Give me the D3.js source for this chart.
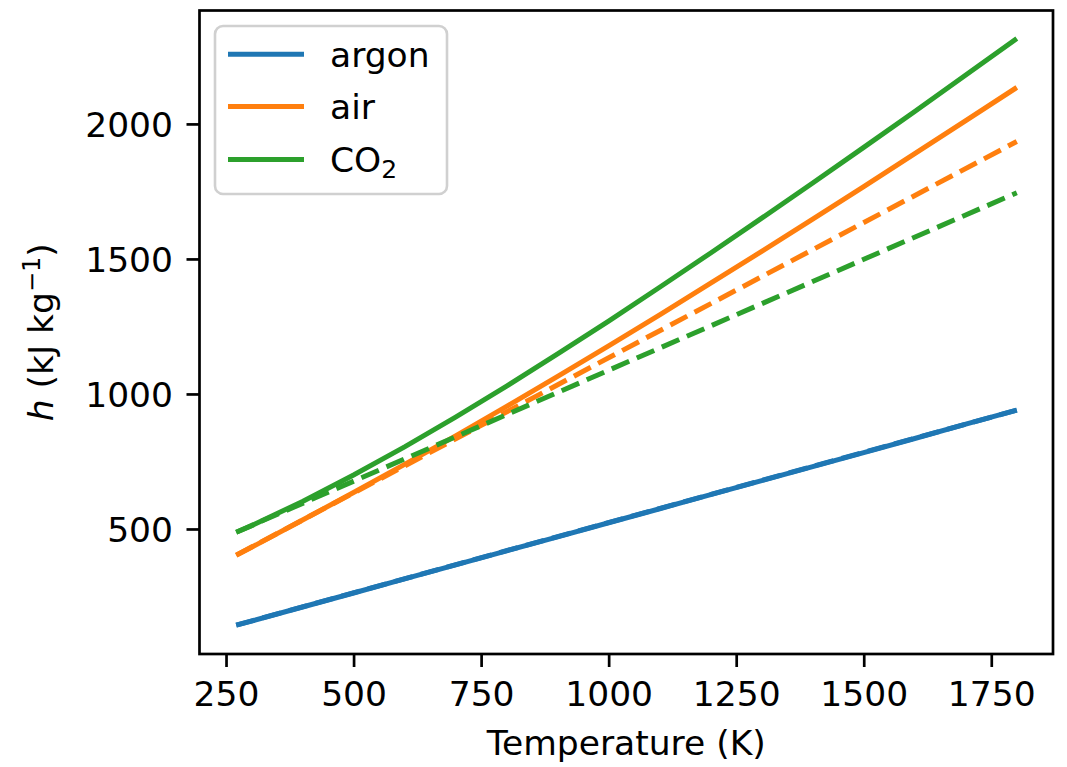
<!DOCTYPE html>
<html>
<head>
<meta charset="utf-8">
<script src="https://cdn.jsdelivr.net/npm/d3@7"></script>
<style>
  html, body { margin: 0; padding: 0; background: #fff; }
  svg { display: block; font-family: "DejaVu Sans", sans-serif; }
</style>
</head>
<body>
<svg id="chart" width="1067" height="767"></svg>
<script>
// 温度 (K)
const temps = [270, 300, 400, 500, 600, 700, 800, 900, 1000, 1100, 1200, 1300, 1400, 1500, 1600, 1700, 1800];
// 实线：h(T)，kJ/kg
const argonH = [144, 159, 211, 263, 315, 367, 419, 471, 523, 575, 627, 679, 731, 783, 835, 888, 940];
const airH   = [403, 432, 533, 635, 739, 845, 954, 1065, 1178, 1293, 1410, 1528, 1647, 1768, 1890, 2012, 2135];
const co2H   = [488, 512, 602, 700, 804, 914, 1029, 1148, 1270, 1395, 1522, 1651, 1781, 1913, 2046, 2181, 2316];
// 虚线：定比热近似（直线，两端点）
const dashT = [270, 1800];
const argonDash = [144, 940];
const airDash   = [403, 1935];
const co2Dash   = [488, 1745];

const xTicks = [250, 500, 750, 1000, 1250, 1500, 1750];
const yTicks = [500, 1000, 1500, 2000];
const names  = ["argon", "air", "CO2"];
const colors = ["#1f77b4", "#ff7f0e", "#2ca02c"];

const svg = d3.select("#chart");
const L = 199.5, R = 1053, T = 10.5, B = 654;

const x = d3.scaleLinear().domain([198, 1871]).range([L, R]);
const y = d3.scaleLinear().domain([37, 2420]).range([B, T]);

const pts = (xs, ys) => xs.map((t, i) => [t, ys[i]]);
const line = d3.line().x((d) => x(d[0])).y((d) => y(d[1]));

const solid = [pts(temps, argonH), pts(temps, airH), pts(temps, co2H)];
const dashed = [pts(dashT, argonDash), pts(dashT, airDash), pts(dashT, co2Dash)];

const plot = svg.append("g");
solid.forEach((s, i) => {
  plot.append("path").attr("d", line(s)).attr("fill", "none")
    .attr("stroke", colors[i]).attr("stroke-width", 5);
});
dashed.forEach((s, i) => {
  plot.append("path").attr("d", line(s)).attr("fill", "none")
    .attr("stroke", colors[i]).attr("stroke-width", 5).attr("stroke-dasharray", "19 8.3");
});

// 坐标轴
const tickLen = 13, fs = 34.5;
const xa = svg.append("g").attr("transform", `translate(0,${B})`)
  .call(d3.axisBottom(x).tickValues(xTicks).tickSize(tickLen).tickPadding(0).tickFormat(d3.format("d")));
const ya = svg.append("g").attr("transform", `translate(${L},0)`)
  .call(d3.axisLeft(y).tickValues(yTicks).tickSize(tickLen).tickPadding(0).tickFormat(d3.format("d")));
[xa, ya].forEach((a) => {
  a.select(".domain").remove();
  a.selectAll(".tick line").attr("stroke", "#000").attr("stroke-width", 2.7);
  a.selectAll(".tick text").attr("fill", "#000").style("font-size", fs + "px")
    .style("font-family", "DejaVu Sans");
});
xa.selectAll(".tick text").attr("y", 0).attr("dy", 0)
  .attr("transform", `translate(0,${706 - B})`);
ya.selectAll(".tick text").attr("x", -(L - 173)).attr("dy", "0.36em");

svg.append("rect").attr("x", L).attr("y", T).attr("width", R - L).attr("height", B - T)
  .attr("fill", "none").attr("stroke", "#000").attr("stroke-width", 2.7);

// 轴标题
svg.append("text").attr("x", (L + R) / 2).attr("y", 755).attr("text-anchor", "middle")
  .style("font-size", fs + "px").text("Temperature (K)");

const yl = svg.append("text").attr("text-anchor", "middle")
  .attr("transform", `translate(53,${(T + B) / 2}) rotate(-90)`).style("font-size", fs + "px");
yl.append("tspan").style("font-style", "italic").text("h");
yl.append("tspan").text(" (kJ kg");
yl.append("tspan").attr("dy", -13).style("font-size", "24px").text("\u22121");
yl.append("tspan").attr("dy", 13).text(")");

// 图例
const lg = svg.append("g");
lg.append("rect").attr("x", 215).attr("y", 26).attr("width", 232).attr("height", 168)
  .attr("rx", 8).attr("fill", "#fff").attr("fill-opacity", 0.8)
  .attr("stroke", "#d0d0d0").attr("stroke-width", 2.6);
const rowY = [54.3, 106.6, 159.5];
names.forEach((n, i) => {
  lg.append("line").attr("x1", 228).attr("x2", 304).attr("y1", rowY[i]).attr("y2", rowY[i])
    .attr("stroke", colors[i]).attr("stroke-width", 5);
  const t = lg.append("text").attr("x", 330).attr("y", rowY[i] + 12.4).style("font-size", fs + "px");
  if (n === "CO2") {
    t.append("tspan").text("CO");
    t.append("tspan").attr("dy", 6.5).style("font-size", "25px").text("2");
  } else {
    t.text(n);
  }
});
</script>
</body>
</html>
